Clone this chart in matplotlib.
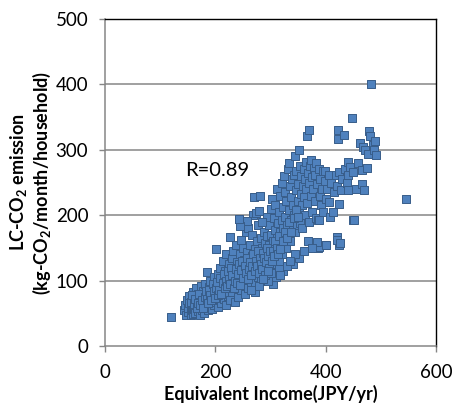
import matplotlib
matplotlib.use("Agg")
import matplotlib.pyplot as plt

# Data (equivalent income, LC-CO2 emission)
income = [
    120,
    143, 145, 147, 148, 150, 151, 152, 153, 155, 155, 157, 158, 159, 160, 160,
    161, 162, 163, 164, 165, 166, 167, 168, 169, 170, 171, 172, 173, 174, 175, 176, 177, 178, 179, 180, 180,
    181, 182, 183, 184, 185, 186, 187, 188, 189, 190, 191, 192, 193, 194, 195, 196, 197, 198, 199, 200, 200,
    201, 202, 203, 204, 205, 206, 207, 208, 209, 210, 211, 212, 213, 214, 215, 216, 217, 218, 219, 220, 220,
    221, 222, 223, 224, 225, 226, 227, 228, 229, 230, 231, 232, 233, 234, 235, 236, 237, 238, 239, 240, 240, 242,
    241, 242, 243, 244, 245, 246, 247, 248, 249, 250, 251, 252, 253, 254, 255, 256, 257, 258, 259, 260, 260,
    261, 262, 263, 264, 265, 266, 267, 268, 269, 270, 270, 271, 272, 273, 274, 275, 276, 277, 278, 279, 280, 280, 281,
    282, 283, 284, 285, 286, 287, 288, 289, 290, 291, 292, 293, 294, 295, 296, 297, 298, 299, 300, 300,
    301, 302, 303, 304, 305, 306, 307, 308, 309, 310, 311, 312, 313, 314, 315, 316, 317, 318, 319, 320, 320,
    321, 322, 323, 324, 325, 326, 327, 328, 329, 330, 331, 332, 333, 334, 335, 336, 337, 338, 339, 340,
    341, 342, 343, 344, 345, 346, 347, 348, 349, 350, 351, 352, 353, 354, 355, 356, 357, 358, 359, 360,
    361, 362, 363, 364, 365, 366, 367, 368, 369, 370, 370, 372, 373, 374, 375, 376, 377, 378, 380,
    381, 382, 383, 384, 386, 387, 388, 389, 390, 392, 393, 395, 396, 398, 399, 399, 400,
    403, 406, 406, 408, 410, 413, 415, 418, 420, 421, 422, 423, 424, 425, 425, 428, 430,
    433, 435, 438, 440, 440, 440, 444, 447, 450, 450, 455, 458,
    462, 465, 465, 468, 469, 472, 475, 476, 479, 481, 483, 485, 488, 490, 492,
    546,
    156, 158, 162, 164, 167, 169, 171, 173, 176, 178, 181, 183, 185, 187, 189, 191, 193, 195, 197, 199,
    201, 203, 205, 207, 209, 211, 213, 215, 217, 219, 221, 223, 225, 227, 229, 231, 233, 235, 237, 239,
    241, 243, 245, 247, 249, 251, 253, 255, 257, 259, 261, 263, 265, 267, 269, 271, 273, 275, 277, 279,
    281, 283, 285, 287, 289, 291, 293, 295, 297, 299, 302, 304, 306, 308, 311, 313, 316, 318, 322, 326,
    330, 334, 338, 342, 346, 350,
    272, 304, 322, 341, 352, 388, 400, 420, 426, 368, 384, 451, 388, 285, 257, 245, 242,
    310, 330, 345, 360, 375, 296, 290, 280, 265, 300, 315, 335, 318, 296, 286,
]
emission = [
    45,
    55, 62, 48, 70, 52, 58, 77, 66, 47, 60, 72, 55, 63, 49, 82,
    68, 57, 75, 50, 88, 62, 70, 53, 80, 58, 66, 47, 74, 92, 60, 55, 84, 68, 62, 77, 51,
    95, 58, 70, 113, 64, 82, 55, 90, 73, 60, 100, 67, 78, 56, 87, 72, 105, 63, 80, 95, 68,
    149, 75, 88, 60, 110, 82, 97, 70, 120, 65, 92, 103, 78, 130, 87, 72, 115, 95, 62, 140, 84,
    100, 108, 76, 125, 90, 166, 70, 112, 98, 135, 82, 145, 105, 93, 120, 68, 155, 88, 110, 128, 100, 194,
    75, 118, 92, 140, 105, 162, 85, 125, 112, 98, 150, 132, 80, 108, 175, 120, 95, 143, 115, 88, 180,
    130, 102, 155, 118, 92, 170, 138, 110, 200, 228, 125, 98, 148, 204, 115, 160, 132, 105, 185, 142, 120, 206, 230,
    100, 165, 135, 150, 189, 112, 175, 128, 158, 140, 108, 198, 168, 122, 145, 185, 155, 130, 210, 118,
    170, 138, 225, 160, 125, 195, 148, 178, 215, 135, 165, 240, 188, 150, 205, 128, 175, 230, 158, 192, 250,
    140, 212, 180, 260, 165, 235, 198, 150, 222, 185, 270, 172, 208, 280, 245, 160, 192, 228, 255, 178,
    215, 262, 200, 290, 175, 238, 268, 185, 222, 248, 205, 300, 275, 188, 232, 260, 215, 180, 245, 228,
    270, 200, 255, 282, 240, 218, 321, 265, 190, 331, 250, 275, 230, 285, 205, 258, 240, 272, 222,
    262, 280, 195, 248, 150, 193, 270, 230, 255, 215, 240, 268, 205, 252, 267, 155, 225,
    240, 220, 261, 198, 250, 205, 235, 262, 245, 167, 331, 316, 217, 266, 155, 238, 255,
    323, 270, 250, 281, 262, 238, 273, 348, 266, 193, 240, 280,
    310, 269, 248, 305, 239, 300, 272, 293, 328, 321, 401, 308, 300, 313, 292,
    225,
    68, 78, 64, 72, 58, 66, 79, 62, 70, 58, 75, 84, 72, 66, 85, 78, 70, 95, 84, 74,
    88, 98, 78, 86, 104, 80, 96, 110, 88, 100, 92, 115, 102, 95, 120, 108, 88, 100, 118, 96,
    110, 125, 94, 116, 130, 104, 122, 112, 135, 102, 118, 128, 108, 122, 140, 115, 130, 122, 145, 112,
    135, 125, 118, 142, 135, 128, 150, 138, 120, 145, 130, 145, 138, 160, 150, 140, 168, 148, 160, 175,
    165, 190, 175, 195, 208, 198,
    82, 95, 115, 125, 134, 151, 155, 162, 158, 161, 159, 193, 193, 189, 191, 183, 194,
    105, 122, 140, 145, 150, 100, 108, 92, 85, 112, 118, 130, 108, 115, 102,
]

x_ticks = [0, 200, 400, 600]
y_ticks = [0, 100, 200, 300, 400, 500]

plt.rcParams['font.family'] = ['Lato', 'DejaVu Sans']
plt.rcParams['mathtext.fontset'] = 'custom'
plt.rcParams['mathtext.rm'] = 'Lato'
plt.rcParams['mathtext.bf'] = 'Lato:bold'

fig = plt.figure(figsize=(4.62, 4.18), dpi=100)
ax = fig.add_axes([105/462, 1-346/418, 331/462, 327/418])

grid_c = '#868686'
ax.set_xlim(0, 600)
ax.set_ylim(0, 500)
ax.set_xticks(x_ticks)
ax.set_yticks(y_ticks)
for yv in y_ticks[1:-1]:
    ax.axhline(yv, color=grid_c, lw=1.1, zorder=0)

ax.scatter(income, emission, marker='s', s=28, facecolor='#4F81BD',
           edgecolor='#385D8A', linewidths=0.7, zorder=3)

for side in ['left', 'bottom']:
    ax.spines[side].set_color(grid_c)
    ax.spines[side].set_linewidth(1.1)
for side in ['top', 'right']:
    ax.spines[side].set_color('#000000')
    ax.spines[side].set_linewidth(1.0)

ax.tick_params(axis='both', direction='out', length=4, width=1, color=grid_c,
               labelsize=13.5, labelcolor='#000000')
ax.tick_params(axis='x', pad=9)
ax.tick_params(axis='y', pad=8)

ax.set_xlabel('Equivalent Income(JPY/yr)', fontsize=13, fontweight='bold', labelpad=3)
ax.set_ylabel('LC-CO$_{\\mathbf{2}}$ emission\n(kg-CO$_{\\mathbf{2}}$/month/household)',
              fontsize=13, fontweight='bold', labelpad=2, linespacing=1.1)

ax.text(146, 268, 'R=0.89', fontsize=14.5, va='center', ha='left')

fig.savefig('out.png', dpi=100)
